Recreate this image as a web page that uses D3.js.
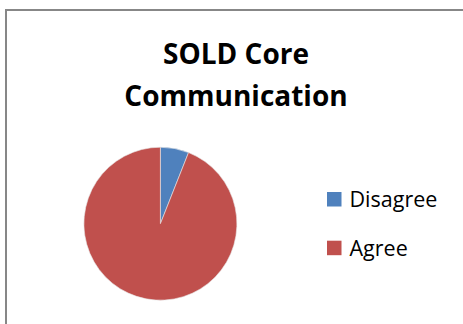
<!DOCTYPE html>
<html>
<head>
<meta charset="utf-8">
<script src="https://cdn.jsdelivr.net/npm/d3@7"></script>
<style>
  html, body { margin: 0; padding: 0; background: #fff; }
  svg { display: block; }
</style>
</head>
<body>
<svg id="chart" width="463" height="324"></svg>
<script>
// Survey responses for SOLD core communication
const categories = ["Disagree", "Agree"];
const values = [6, 94];
const colors = ["#4F81BD", "#C0504D"];
const titleLines = ["SOLD Core", "Communication"];

const svg = d3.select("#chart");
const W = 463, H = 324;

// Chart area frame (runs off the right and bottom edges)
svg.append("rect")
  .attr("x", 6).attr("y", 10)
  .attr("width", W + 10).attr("height", H + 10)
  .attr("fill", "#fff")
  .attr("stroke", "#878787")
  .attr("stroke-width", 2);

// Title
const title = svg.append("text")
  .attr("text-anchor", "middle")
  .attr("font-family", "'Open Sans', 'Noto Sans', sans-serif")
  .attr("font-weight", "bold")
  .attr("font-size", 28)
  .attr("fill", "#000");
title.selectAll("tspan")
  .data(titleLines)
  .join("tspan")
  .attr("x", 236)
  .attr("y", (d, i) => 63.5 + i * 42)
  .text(d => d);

// Pie
const cx = 160.4, cy = 223.7, r = 76.5;
const pie = d3.pie().sort(null).value(d => d.value);
const arc = d3.arc().innerRadius(0).outerRadius(r);
const data = categories.map((c, i) => ({ name: c, value: values[i] }));
const color = d3.scaleOrdinal().domain(categories).range(colors);

svg.append("g")
  .attr("transform", `translate(${cx},${cy})`)
  .selectAll("path")
  .data(pie(data))
  .join("path")
  .attr("d", arc)
  .attr("fill", d => color(d.data.name))
  .attr("stroke", "#e8e8e8")
  .attr("stroke-width", 0.6);

// Legend
const legend = svg.append("g")
  .selectAll("g")
  .data(categories)
  .join("g")
  .attr("transform", (d, i) => `translate(327,${192 + i * 48.7})`);

legend.append("rect")
  .attr("width", 14.5).attr("height", 14.5)
  .attr("fill", d => color(d));

legend.append("text")
  .attr("x", 22.5)
  .attr("y", 15)
  .attr("font-family", "'Open Sans', 'Noto Sans', sans-serif")
  .attr("font-size", 21.5)
  .attr("fill", "#000")
  .text(d => d);
</script>
</body>
</html>
